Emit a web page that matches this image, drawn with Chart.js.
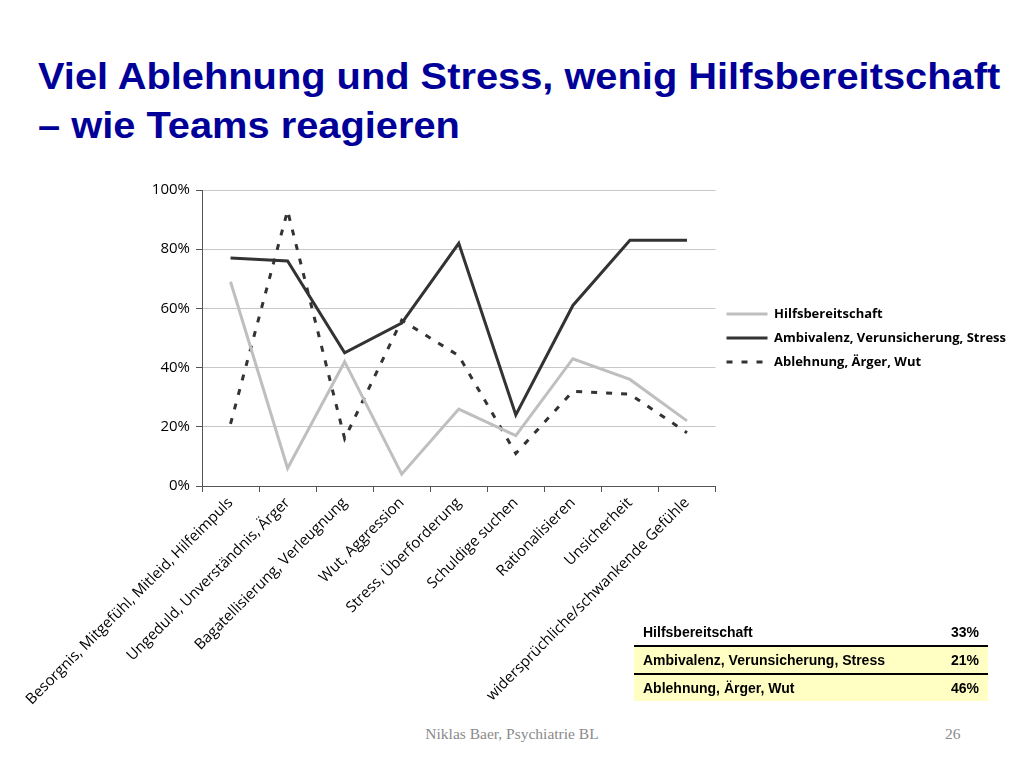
<!DOCTYPE html>
<html>
<head>
<meta charset="utf-8">
<script src="https://cdn.jsdelivr.net/npm/chart.js@4.4.1/dist/chart.umd.min.js"></script>
<style>
  body { margin: 0; width: 1024px; height: 768px; background: #fff; overflow: hidden; position: relative; font-family: 'Liberation Sans', Arial, sans-serif; }
  #title { position: absolute; left: 38px; top: 52px; color: #000099; font-weight: bold; font-size: 36px; line-height: 49px; white-space: nowrap; transform-origin: left top; }
  #wrap { position: absolute; left: 0; top: 175px; width: 1024px; height: 545px; }
  #summary { position: absolute; left: 634px; top: 619px; width: 354px; border-collapse: collapse; font-size: 14px; font-weight: bold; }
  #summary td { padding: 0 9px; height: 26px; }
  #summary td.v { text-align: right; }
  #summary tr.y td { background: #ffffc4; }
  #summary tr.b td { border-bottom: 2px solid #000; }
  #footer { position: absolute; left: 0; width: 1024px; top: 725px; text-align: center; font-family: 'Liberation Serif', 'Times New Roman', serif; font-size: 15.5px; color: #8a8a8a; }
  #page { position: absolute; left: 945px; top: 725px; font-family: 'Liberation Serif', 'Times New Roman', serif; font-size: 15.5px; color: #8a8a8a; }
</style>
</head>
<body>
<div id="title">Viel Ablehnung und Stress, wenig Hilfsbereitschaft<br>– wie Teams reagieren</div>
<div id="wrap"><canvas id="chart"></canvas></div>
<table id="summary">
  <tr class="b"><td>Hilfsbereitschaft</td><td class="v">33%</td></tr>
  <tr class="y b"><td>Ambivalenz, Verunsicherung, Stress</td><td class="v">21%</td></tr>
  <tr class="y"><td>Ablehnung, Ärger, Wut</td><td class="v">46%</td></tr>
</table>
<div id="footer">Niklas Baer, Psychiatrie BL</div>
<div id="page">26</div>
<script>
// Kategorien (x-Achse)
const categories = [
    'Besorgnis, Mitgefühl, Mitleid, Hilfeimpuls',
    'Ungeduld, Unverständnis, Ärger',
    'Bagatellisierung, Verleugnung',
    'Wut, Aggression',
    'Stress, Überforderung',
    'Schuldige suchen',
    'Rationalisieren',
    'Unsicherheit',
    'widersprüchliche/schwankende Gefühle'
];

// Werte in %
const hilfsbereitschaft = [69, 6, 42, 4, 26, 17, 43, 36, 22];
const ambivalenz = [77, 76, 45, 55, 82, 24, 61, 83, 83];
const ablehnung = [21, 93, 16, 56, 44, 11, 32, 31, 18];

const yTicks = [0, 20, 40, 60, 80, 100];

const fontFamily = "'Open Sans', 'DejaVu Sans', sans-serif";
const labelFont = { family: fontFamily, size: 15 };

// Titel auf Breite bringen
const title = document.getElementById('title');
const firstLineWidth = 962;
const probe = document.createElement('span');
probe.style.cssText = 'font: bold 36px "Liberation Sans", Arial, sans-serif; position:absolute; visibility:hidden; white-space:nowrap;';
probe.textContent = 'Viel Ablehnung und Stress, wenig Hilfsbereitschaft';
document.body.appendChild(probe);
title.style.transform = 'scaleX(' + (firstLineWidth / probe.offsetWidth) + ')';
probe.remove();

const ctx = document.getElementById('chart');

new Chart(ctx, {
    type: 'line',
    data: {
        labels: categories,
        datasets: [{
            label: 'Hilfsbereitschaft',
            data: hilfsbereitschaft,
            borderColor: '#bfbfbf',
            backgroundColor: '#bfbfbf',
            borderWidth: 3,
            pointRadius: 0,
            tension: 0
        }, {
            label: 'Ambivalenz, Verunsicherung, Stress',
            data: ambivalenz,
            borderColor: '#333333',
            backgroundColor: '#333333',
            borderWidth: 3,
            pointRadius: 0,
            tension: 0
        }, {
            label: 'Ablehnung, Ärger, Wut',
            data: ablehnung,
            borderColor: '#333333',
            backgroundColor: '#333333',
            borderWidth: 3,
            borderDash: [6, 9],
            pointRadius: 0,
            tension: 0
        }]
    },
    options: {
        responsive: true,
        maintainAspectRatio: false,
        animation: false,
        layout: {
            padding: { left: 0, right: 8, top: 15, bottom: 0 }
        },
        plugins: {
            legend: {
                display: true,
                position: 'right',
                align: 'center',
                fullSize: false,
                maxWidth: 330,
                labels: {
                    usePointStyle: true,
                    pointStyle: 'line',
                    pointStyleWidth: 41,
                    padding: 11,
                    color: '#000',
                    font: { family: fontFamily, size: 13, weight: 'bold' },
                    generateLabels: (chart) =>
                        Chart.defaults.plugins.legend.labels.generateLabels(chart).map((item, i) => ({
                            ...item,
                            lineWidth: 3,
                            strokeStyle: chart.data.datasets[i].borderColor,
                            lineDash: chart.data.datasets[i].borderDash || []
                        }))
                }
            },
            tooltip: { enabled: false }
        },
        scales: {
            x: {
                offset: true,
                afterFit: (scale) => { scale.height = 234; },
                grid: {
                    offset: true,
                    drawOnChartArea: false,
                    drawTicks: true,
                    tickLength: 6,
                    color: '#555'
                },
                border: { color: '#555', width: 1 },
                ticks: {
                    autoSkip: false,
                    maxRotation: 45,
                    minRotation: 45,
                    color: '#000',
                    font: labelFont,
                    padding: 2
                }
            },
            y: {
                min: 0,
                max: 100,
                afterFit: (scale) => { scale.width = 202; },
                afterBuildTicks: (scale) => { scale.ticks = yTicks.map(v => ({ value: v })); },
                grid: {
                    color: '#c8c8c8',
                    tickColor: '#555',
                    tickLength: 6,
                    drawTicks: true
                },
                border: { color: '#555', width: 1 },
                ticks: {
                    color: '#000',
                    font: labelFont,
                    padding: 6,
                    callback: (v) => v + '%'
                }
            }
        }
    }
});
</script>
</body>
</html>
